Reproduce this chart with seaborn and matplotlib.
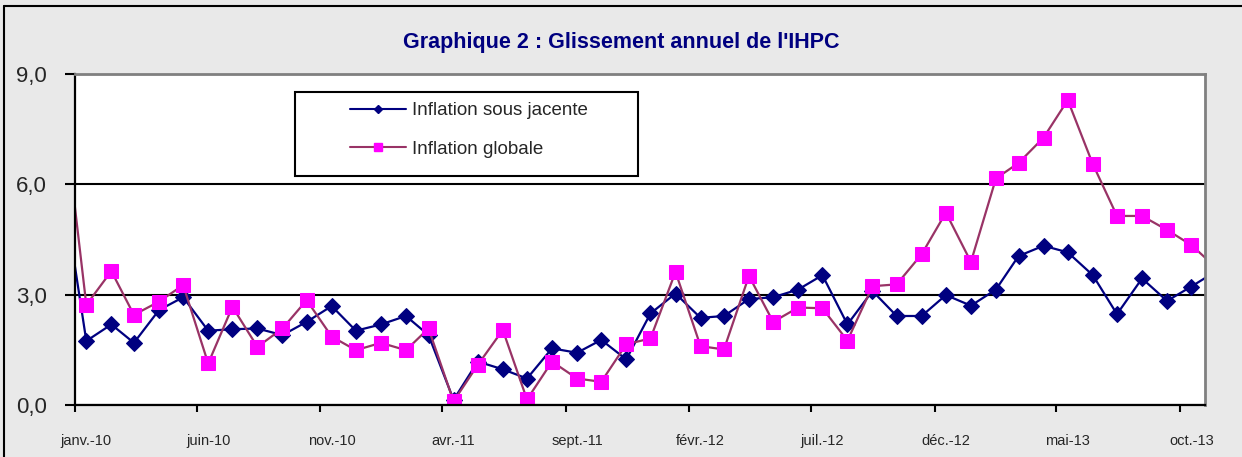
import pandas as pd
import seaborn as sns
import matplotlib.pyplot as plt
from matplotlib.lines import Line2D
from matplotlib.patches import Rectangle

# Monthly values, déc. 2009 -> nov. 2013 (first and last month sit just outside the axis)
months = pd.date_range('2009-12-01', periods=48, freq='MS')
inflation_sous_jacente = [6.2,
                          1.74, 2.19, 1.69, 2.58, 2.93, 2.02, 2.06, 2.08, 1.90, 2.26,
                          2.69, 2.02, 2.19, 2.42, 1.90, 0.14, 1.18, 0.97, 0.72, 1.54,
                          1.42, 1.77, 1.24, 2.49, 3.03, 2.37, 2.42, 2.88, 2.93, 3.14,
                          3.53, 2.19, 3.10, 2.42, 2.42, 2.99, 2.70, 3.14, 4.05, 4.33,
                          4.15, 3.53, 2.47, 3.44, 2.83, 3.22,
                          3.64]
inflation_globale = [8.56,
                     2.72, 3.64, 2.45, 2.81, 3.26, 1.13, 2.67, 1.58, 2.08, 2.85,
                     1.86, 1.49, 1.69, 1.49, 2.08, 0.10, 1.09, 2.04, 0.15, 1.18,
                     0.72, 0.63, 1.65, 1.81, 3.62, 1.60, 1.51, 3.51, 2.26, 2.65,
                     2.63, 1.75, 3.23, 3.28, 4.10, 5.23, 3.89, 6.16, 6.58, 7.27,
                     8.29, 6.55, 5.14, 5.14, 4.76, 4.35,
                     3.73]

tick_months = pd.date_range('2010-01-01', periods=10, freq='5MS')
tick_labels = ['janv.-10', 'juin-10', 'nov.-10', 'avr.-11', 'sept.-11',
               'févr.-12', 'juil.-12', 'déc.-12', 'mai-13', 'oct.-13']
y_ticks = [0, 3, 6, 9]
y_labels = ['0,0', '3,0', '6,0', '9,0']
series_names = ['Inflation sous jacente', 'Inflation globale']
title = "Graphique 2 : Glissement annuel de l'IHPC"

# points are drawn mid-month (between the monthly tick marks)
df = pd.DataFrame({'date': months + pd.Timedelta(days=14),
                   'sous_jacente': inflation_sous_jacente,
                   'globale': inflation_globale})

sns.set_theme(style='white')
plt.rcParams['font.family'] = ['Liberation Sans', 'DejaVu Sans']

fig = plt.figure(figsize=(12.42, 4.57), dpi=100, facecolor='#e9e9e9')
ax = fig.add_axes([0.0604, 0.1138, 0.9098, 0.7243])
ax.set_facecolor('white')

sns.lineplot(data=df, x='date', y='sous_jacente', color='#000080', marker='D',
             markersize=8, markeredgecolor='#000080', linewidth=1.6, ax=ax)
sns.lineplot(data=df, x='date', y='globale', color='#993366', marker='s',
             markersize=10, markerfacecolor='#ff00ff', markeredgecolor='#ff00ff',
             linewidth=1.6, ax=ax)

ax.set_xlim(pd.Timestamp('2010-01-01'), pd.Timestamp('2013-11-01'))
ax.set_ylim(0, 9)
ax.set_xlabel('')
ax.set_ylabel('')

# ticks at month starts, labels centred on the month
ax.set_xticks(tick_months)
ax.set_xticklabels([])
ax.set_xticks(tick_months + pd.Timedelta(days=14), minor=True)
ax.set_xticklabels(tick_labels, minor=True)
ax.set_yticks(y_ticks)
ax.set_yticklabels(y_labels)
ax.tick_params(axis='x', which='major', bottom=True, direction='out', length=5, width=1.5, color='black')
ax.tick_params(axis='x', which='minor', bottom=True, length=0, pad=21, labelsize=10.5)
ax.tick_params(axis='y', left=True, direction='out', length=7, width=1.5, color='black',
               pad=13, labelsize=16)

ax.set_axisbelow(True)
ax.yaxis.grid(True, color='black', linewidth=1.5)
for side in ['left', 'bottom']:
    ax.spines[side].set_color('black')
    ax.spines[side].set_linewidth(1.6)
for side in ['top', 'right']:
    ax.spines[side].set_color('#808080')
    ax.spines[side].set_linewidth(2)

# legend box
ax.add_patch(Rectangle((0.1947, 0.692), 0.3035, 0.2538, transform=ax.transAxes,
                       facecolor='white', edgecolor='black', linewidth=1.5, zorder=4))
handles = [Line2D([], [], color='#000080', marker='D', markersize=4.5,
                  markeredgecolor='#000080', linewidth=1.5),
           Line2D([], [], color='#993366', marker='s', markersize=6,
                  markerfacecolor='#ff00ff', markeredgecolor='#ff00ff', linewidth=1.5)]
leg = ax.legend(handles, series_names, loc='upper left', bbox_to_anchor=(0.2434, 0.9154),
                frameon=False, borderpad=0, borderaxespad=0, handlelength=3.0,
                handletextpad=0.3, labelspacing=1.15, fontsize=13.5)
leg.set_zorder(5)

fig.text(0.5, 0.908, title, ha='center', va='center', fontsize=15.5,
         fontweight='bold', color='#000080')

# outer frame (left and top edges only, the rest is cropped in the original)
fig.add_artist(Line2D([4 / 1242, 4 / 1242], [0, 1 - 6 / 457], color='black', lw=1.5,
                      transform=fig.transFigure))
fig.add_artist(Line2D([4 / 1242, 1], [1 - 6 / 457, 1 - 6 / 457], color='black', lw=1.5,
                      transform=fig.transFigure))

fig.savefig('out.png', dpi=100, facecolor=fig.get_facecolor())
